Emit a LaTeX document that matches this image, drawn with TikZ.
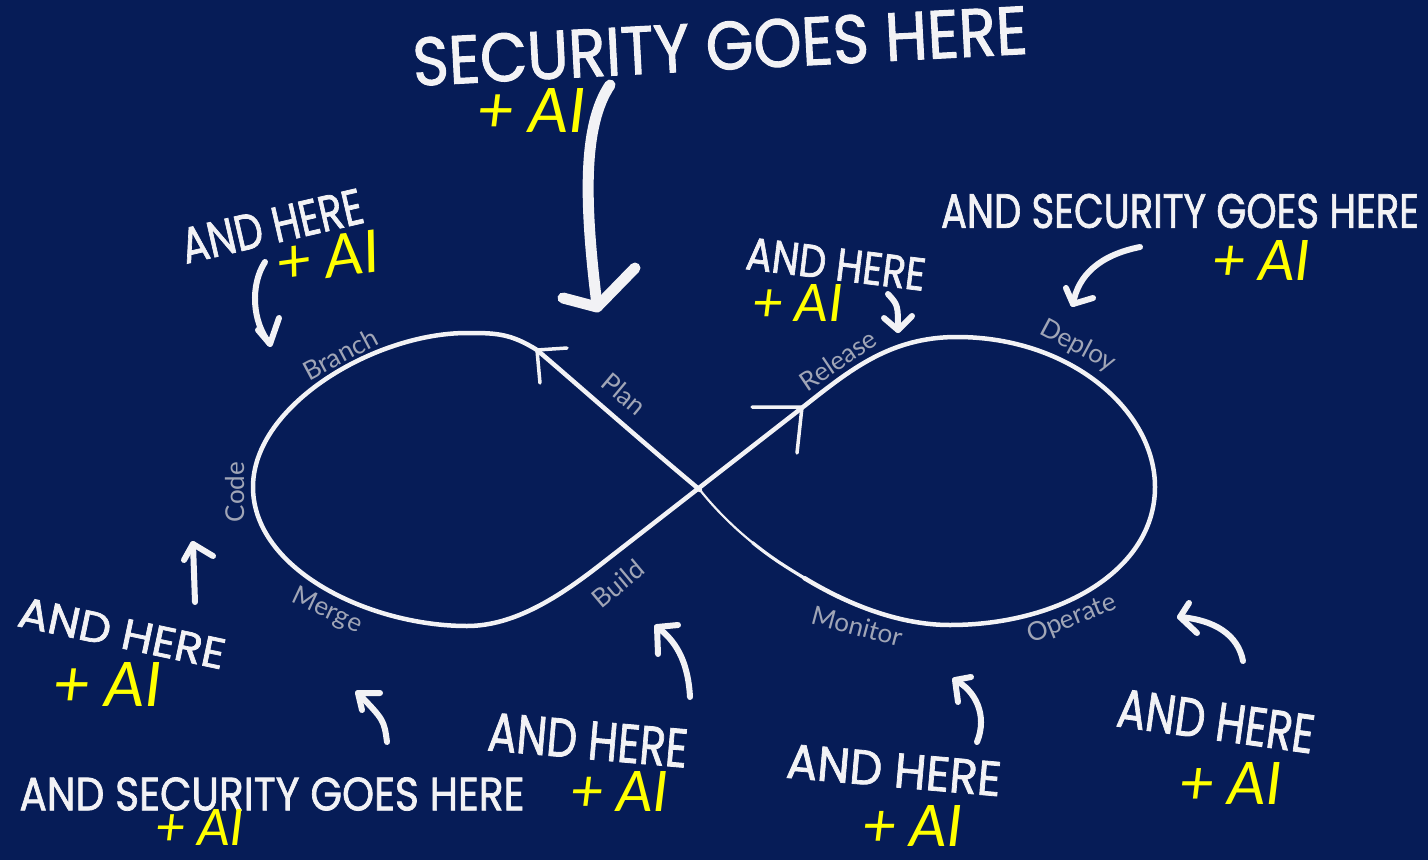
\documentclass[tikz,border=0pt]{standalone}
\usepackage{graphicx}
\usepackage{fontspec}
\setmainfont{Lato}
\newfontfamily\hwfont{Poppins}[FakeBold=1.6]
\newfontfamily\aifont{Carlito}
\definecolor{bg}{RGB}{6,28,87}
\definecolor{lblgray}{RGB}{160,165,182}
\definecolor{chalk}{RGB}{242,242,245}
\definecolor{aiyellow}{RGB}{255,255,0}
\newcommand\hw[3]{\resizebox{#1pt}{#2pt}{\hwfont #3}}
\newcommand\aitxt[1]{\resizebox{!}{#1pt}{\aifont\itshape + AI}}
\tikzset{
  hwtext/.style={inner sep=0pt, text=chalk},
  aitext/.style={inner sep=0pt, text=aiyellow},
  steplabel/.style={inner sep=0pt, text=lblgray, font=\fontsize{26}{26}\selectfont},
  loopline/.style={draw=chalk, line width=4.5pt, line cap=round, line join=round},
  midline/.style={draw=chalk, line width=3.2pt, line cap=round, line join=round},
  thinline/.style={draw=chalk, line width=2.2pt, line cap=round, line join=round},
  headline/.style={draw=chalk, line width=3.5pt, line cap=round, line join=round},
  pointer/.style={draw=chalk, line width=6pt, line cap=round, line join=round},
  bigpointer/.style={draw=chalk, line width=11pt, line cap=round, line join=round},
}
\begin{document}
\begin{tikzpicture}[x=1pt,y=-1pt]
\fill[bg] (0,0) rectangle (1428,860);
\useasboundingbox (0,0) rectangle (1428,860);

% infinity loop
\coordinate (C) at (700,490);
\draw[loopline] (C) .. controls (640,440) and (570,378) .. (537,350)
  .. controls (510,333) and (495,333) .. (467,333)
  .. controls (375,333) and (253,405) .. (253,487)
  .. controls (253,570) and (370,626) .. (467,626)
  .. controls (515,626) and (560,596) .. (600,565)
  -- (803,407)
  .. controls (850,370) and (890,337) .. (957,337)
  .. controls (1070,337) and (1155,410) .. (1155,487)
  .. controls (1155,570) and (1060,625) .. (950,625)
  .. controls (900,625) and (848.75,605) .. (804.4,578.1);
\draw[midline] (804.4,578.1) .. controls (782.2,564.7) and (769.8,556.6) .. (752.6,542.7);
\draw[thinline] (752.6,542.7) .. controls (735.4,528.8) and (716.3,510.6) .. (C);
% arrowheads on the loop
\draw[headline] (567,348) -- (537,350) -- (540,383);
\draw[headline] (752,407) -- (802,407) -- (797,453);

% step labels
\node[steplabel, rotate=28] (branch) at (340,354) {Branch};
\node[steplabel, rotate=-40] (plan) at (624,394) {Plan};
\node[steplabel, rotate=90] (code) at (235,492) {Code};
\node[steplabel, rotate=-25] (merge) at (327,611) {Merge};
\node[steplabel, rotate=40] (build) at (618,584) {Build};
\node[steplabel, rotate=34] (release) at (838,360) {Release};
\node[steplabel, rotate=-28] (deploy) at (1078,346) {Deploy};
\node[steplabel, rotate=-15] (monitor) at (857,626) {Monitor};
\node[steplabel, rotate=22] (operate) at (1072,619) {Operate};

% handwritten notes
\node[hwtext, rotate=3] (t1) at (720,46) {\hw{615}{48}{SECURITY GOES HERE}};
\node[aitext] (a1) at (532,110) {\aitxt{44}};
\draw[bigpointer] (610,85) .. controls (583,125) and (584,200) .. (597,305);
\draw[bigpointer] (563,298) -- (597,307) -- (635,268);

\node[hwtext, rotate=13] (t2) at (272,226) {\hw{185}{35}{AND HERE}};
\node[aitext, rotate=8] (a2) at (328,257) {\aitxt{42}};
\draw[pointer] (265,262) .. controls (250,285) and (252,322) .. (270,344);
\draw[pointer] (258,330) -- (270,344) -- (279,318);

\node[hwtext, rotate=-7] (t3) at (836,264) {\hw{180}{32}{AND HERE}};
\node[aitext] (a3) at (798,303) {\aitxt{37}};
\draw[pointer] (888,294) .. controls (898,305) .. (898,330);
\draw[pointer] (884,318) -- (898,330) -- (912,316);

\node[hwtext] (t4) at (1180,211) {\hw{478}{34}{AND SECURITY GOES HERE}};
\node[aitext] (a4) at (1262,260) {\aitxt{40}};
\draw[pointer] (1140,247) .. controls (1100,255) and (1078,275) .. (1073,304);
\draw[pointer] (1066,288) -- (1073,304) -- (1093,298);

\node[hwtext, rotate=-12] (t5) at (122,633) {\hw{210}{30}{AND HERE}};
\node[aitext] (a5) at (108,684) {\aitxt{44}};
\draw[pointer] (195,602) -- (193,544);
\draw[pointer] (184,560) -- (193,544) -- (213,556);

\node[hwtext] (t6) at (272,794) {\hw{505}{33}{AND SECURITY GOES HERE}};
\node[aitext] (a6) at (200,827) {\aitxt{36}};
\draw[pointer] (387,742) .. controls (384,720) .. (358,693);
\draw[pointer] (380,693) -- (358,693) -- (362,710);

\node[hwtext, rotate=-5] (t7) at (588,740) {\hw{200}{38}{AND HERE}};
\node[aitext] (a7) at (620,791) {\aitxt{40}};
\draw[pointer] (690,697) .. controls (688,660) and (675,640) .. (657,627);
\draw[pointer] (678,625) -- (657,627) -- (658,654);

\node[hwtext, rotate=-5] (t8) at (894,770) {\hw{215}{34}{AND HERE}};
\node[aitext] (a8) at (913,826) {\aitxt{41}};
\draw[pointer] (977,742) .. controls (988,715) and (975,690) .. (955,680);
\draw[pointer] (971,677) -- (955,680) -- (958,702);

\node[hwtext, rotate=-8] (t9) at (1216,721) {\hw{198}{38}{AND HERE}};
\node[aitext] (a9) at (1231,783) {\aitxt{42}};
\draw[pointer] (1243,661) .. controls (1238,635) and (1215,620) .. (1180,617);
\draw[pointer] (1189,603) -- (1180,617) -- (1197,633);
\end{tikzpicture}
\end{document}
